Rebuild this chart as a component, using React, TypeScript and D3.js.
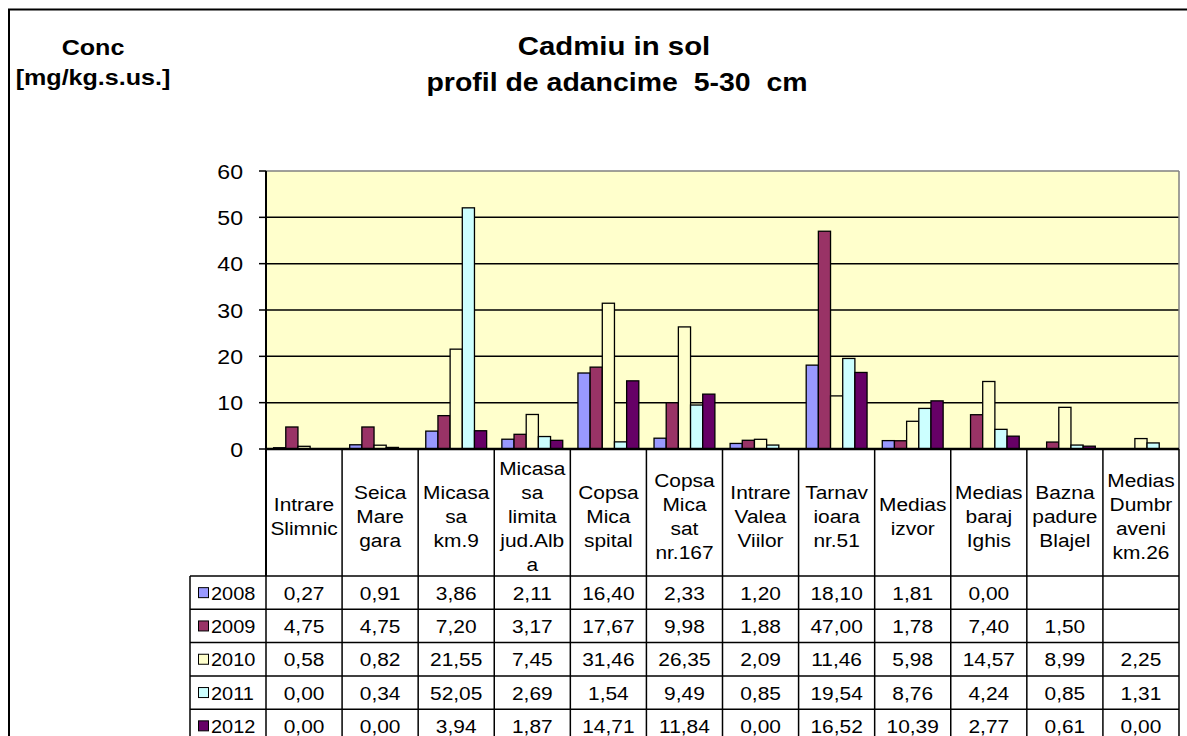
import React from "react";
import * as d3 from "d3";

// sampling points (each label is already split the way the table wraps it)
const categories = [
  ["Intrare", "Slimnic"],
  ["Seica", "Mare", "gara"],
  ["Micasa", "sa", "km.9"],
  ["Micasa", "sa", "limita", "jud.Alb", "a"],
  ["Copsa", "Mica", "spital"],
  ["Copsa", "Mica", "sat", "nr.167"],
  ["Intrare", "Valea", "Viilor"],
  ["Tarnav", "ioara", "nr.51"],
  ["Medias", "izvor"],
  ["Medias", "baraj", "Ighis"],
  ["Bazna", "padure", "Blajel"],
  ["Medias", "Dumbr", "aveni", "km.26"]
];

const years = ["2008", "2009", "2010", "2011", "2012"];

// Cd concentration, mg/kg dry soil (null = no sample)
const v2008 = [0.27, 0.91, 3.86, 2.11, 16.4, 2.33, 1.2, 18.1, 1.81, 0.0, null, null];
const v2009 = [4.75, 4.75, 7.2, 3.17, 17.67, 9.98, 1.88, 47.0, 1.78, 7.4, 1.5, null];
const v2010 = [0.58, 0.82, 21.55, 7.45, 31.46, 26.35, 2.09, 11.46, 5.98, 14.57, 8.99, 2.25];
const v2011 = [0.0, 0.34, 52.05, 2.69, 1.54, 9.49, 0.85, 19.54, 8.76, 4.24, 0.85, 1.31];
const v2012 = [0.0, 0.0, 3.94, 1.87, 14.71, 11.84, 0.0, 16.52, 10.39, 2.77, 0.61, 0.0];

const yTicks = [0, 10, 20, 30, 40, 50, 60];

const series = [v2008, v2009, v2010, v2011, v2012];
const colors = ["#9999FF", "#993366", "#FFFFCC", "#CCFFFF", "#660066"];

const FONT = "'Liberation Sans', Arial, sans-serif";

const W = 1187,
  H = 736;
const plot = { left: 266, right: 1179, top: 171, bottom: 449 };
const table = { legendLeft: 190, headerBottom: 576, rowH: 33.3 };

const fmt = (v: number | null) => (v == null ? "" : d3.format(".2f")(v).replace(".", ","));

// the original text is a bit stretched horizontally, hence the sx factor
function T(props: {
  x: number;
  y: number;
  size: number;
  sx?: number;
  anchor?: string;
  bold?: boolean;
  children: React.ReactNode;
}) {
  const { x, y, size, sx = 1.1, anchor = "middle", bold, children } = props;
  return (
    <text
      transform={`translate(${x},${y}) scale(${sx},1)`}
      textAnchor={anchor}
      fontSize={size}
      fontWeight={bold ? "bold" : "normal"}
      fontFamily={FONT}
      fill="#000"
    >
      {children}
    </text>
  );
}

export default function App() {
  const idx = categories.map((_, i) => String(i));

  const x = d3
    .scaleBand()
    .domain(idx)
    .range([plot.left, plot.right])
    .paddingInner(0.2)
    .paddingOuter(0.1);
  const x1 = d3.scaleBand().domain(years).range([0, x.bandwidth()]);
  const y = d3.scaleLinear().domain([0, 60]).range([plot.bottom, plot.top]);

  const step = x.step();
  const bounds = idx.map((_, i) => plot.left + i * step);
  bounds.push(plot.right);
  const rowTop = (r: number) => table.headerBottom + r * table.rowH;
  const tableBottom = rowTop(years.length);

  return (
    <svg
      width={W}
      height={H}
      style={{ position: "absolute", left: 0, top: 0, background: "#fff" }}
    >
      {/* outer chart frame */}
      <rect x={9} y={9.5} width={1200} height={760} fill="none" stroke="#000" strokeWidth={2} />

      {/* titles */}
      <T x={93} y={55} size={22} sx={1.14} bold>Conc</T>
      <T x={93} y={85} size={22} sx={1.14} bold>[mg/kg.s.us.]</T>
      <T x={614} y={55} size={26} sx={1.13} bold>Cadmiu in sol</T>
      <T x={617} y={91} size={26} sx={1.095} bold>{"profil de adancime\u00a0 5-30\u00a0 cm"}</T>

      {/* plot area */}
      <rect
        x={plot.left}
        y={plot.top}
        width={plot.right - plot.left}
        height={plot.bottom - plot.top}
        fill="#FFFFCC"
      />
      {yTicks
        .filter(t => t > 0 && t < 60)
        .map(t => (
          <line key={t} x1={plot.left} x2={plot.right} y1={y(t)} y2={y(t)} stroke="#000" strokeWidth={1.5} />
        ))}
      <line x1={plot.left} x2={plot.right} y1={plot.top} y2={plot.top} stroke="#808080" strokeWidth={1.5} />
      <line x1={plot.right} x2={plot.right} y1={plot.top} y2={plot.bottom} stroke="#808080" strokeWidth={1.5} />

      {/* bars */}
      {series.map((vals, s) =>
        vals.map((v, i) =>
          v == null ? null : (
            <rect
              key={`${s}-${i}`}
              x={(x(String(i)) as number) + (x1(years[s]) as number)}
              y={y(v)}
              width={x1.bandwidth()}
              height={y(0) - y(v)}
              fill={colors[s]}
              stroke="#000"
              strokeWidth={1.3}
            />
          )
        )
      )}

      {/* y axis */}
      <line x1={plot.left} x2={plot.left} y1={plot.top} y2={table.headerBottom} stroke="#000" strokeWidth={2} />
      {yTicks.map(t => (
        <g key={t}>
          <line x1={plot.left - 7} x2={plot.left} y1={y(t)} y2={y(t)} stroke="#000" strokeWidth={1.5} />
          <T x={243} y={y(t) + 7.5} size={21} anchor="end">{t}</T>
        </g>
      ))}
      <line x1={plot.left} x2={plot.right} y1={plot.bottom} y2={plot.bottom} stroke="#000" strokeWidth={2.5} />

      {/* data table */}
      {bounds.map((bx, i) => (
        <line key={i} x1={bx} x2={bx} y1={plot.bottom} y2={tableBottom} stroke="#000" strokeWidth={1.5} />
      ))}
      <line x1={table.legendLeft} x2={table.legendLeft} y1={table.headerBottom} y2={tableBottom} stroke="#000" strokeWidth={1.5} />
      {d3.range(years.length + 1).map(r => (
        <line
          key={r}
          x1={table.legendLeft}
          x2={plot.right}
          y1={rowTop(r)}
          y2={rowTop(r)}
          stroke="#000"
          strokeWidth={1.5}
        />
      ))}

      {/* category headers */}
      {categories.map((lines, i) => {
        const cx = plot.left + (i + 0.5) * step;
        const mid = 516;
        return lines.map((ln, k) => (
          <T key={`${i}-${k}`} x={cx} y={mid + (k - (lines.length - 1) / 2) * 24 + 7} size={19}>
            {ln}
          </T>
        ));
      })}

      {/* legend keys + values */}
      {years.map((yr, r) => {
        const cy = rowTop(r) + table.rowH / 2;
        return (
          <g key={yr}>
            <rect x={198.5} y={cy - 5} width={10} height={10} fill={colors[r]} stroke="#000" strokeWidth={1} />
            <T x={211} y={cy + 7} size={19} sx={1.05} anchor="start">{yr}</T>
            {series[r].map((v, i) => (
              <T key={i} x={plot.left + (i + 0.5) * step} y={cy + 7} size={19}>
                {fmt(v)}
              </T>
            ))}
          </g>
        );
      })}
    </svg>
  );
}
